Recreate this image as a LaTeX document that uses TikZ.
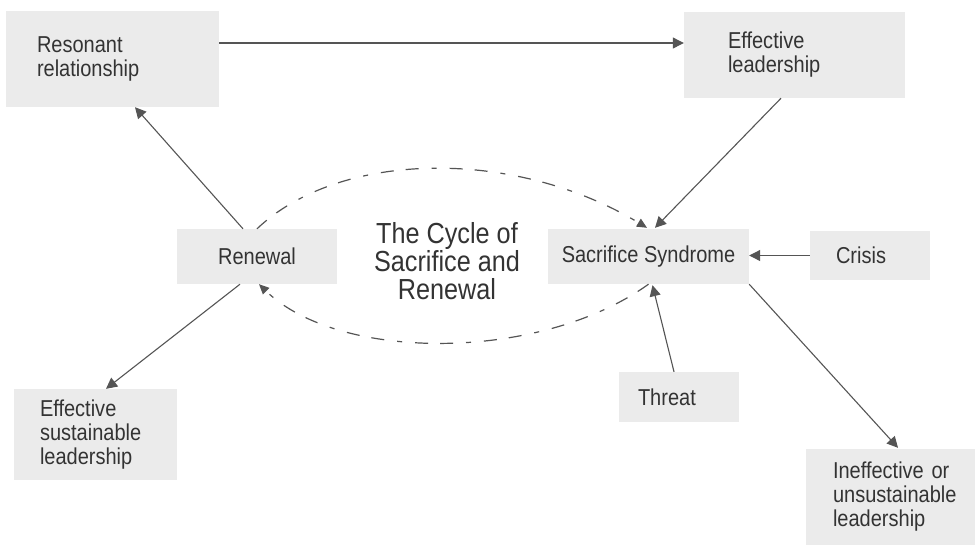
\documentclass[tikz,border=0pt]{standalone}
\usepackage{fontspec}
\setmainfont{Liberation Sans}[FakeStretch=0.87]
\usetikzlibrary{arrows.meta,calc}
\definecolor{boxgray}{HTML}{EBEBEB}
\definecolor{linegray}{HTML}{555555}
\definecolor{textgray}{HTML}{333333}
\tikzset{
  box/.style={fill=boxgray, draw=none, inner sep=0pt, text=textgray,
    font=\fontsize{23}{24}\selectfont},
  leftbox/.style args={#1/#2/#3}{box, minimum width=#1pt, minimum height=#2pt,
    text width=#1pt-2*#3pt, align=left},
  centbox/.style args={#1/#2}{box, minimum width=#1pt, minimum height=#2pt, align=center},
  arr/.style={draw=linegray, line width=1.1pt, -{Triangle[length=11pt,width=11pt]}},
  cyc/.style={draw=linegray, line width=1.2pt,
    dash pattern=on 13pt off 12pt on 13pt off 13pt on 5pt off 13pt,
    -{Triangle[length=10pt,width=9pt]}},
  titletext/.style={text=textgray, align=center, font=\fontsize{29}{28}\selectfont}
}
\begin{document}
\begin{tikzpicture}[x=1pt,y=-1pt]
\useasboundingbox (0,0) rectangle (979,547);
\fill[white] (0,0) rectangle (979,547);

\node[leftbox=213/96/31] (res) at (112.5,59) {Resonant\\relationship};
\node[leftbox=221/86/44] (eff) at (794.5,55) {Effective\\leadership};
\node[centbox=160/55] (ren) at (257,256.5) {Renewal};
\node[centbox=201/55] (sac) at (648.5,256.5) {Sacrifice Syndrome};
\node[leftbox=120/49/26] (cri) at (870,255.5) {Crisis};
\node[leftbox=120/50/19] (thr) at (679,397) {Threat};
\node[leftbox=163/91/26] (esl) at (95.5,434.5) {Effective\\sustainable\\leadership};
\node[leftbox=169/96/27] (inef) at (890.5,497) {\makebox[0pt][l]{Ineffective or}\\\makebox[0pt][l]{unsustainable}\\leadership};
\node[titletext] (title) at (447,261) {The Cycle of\\Sacrifice and\\Renewal};

\coordinate (r1) at ($(res.east)+(0,-16)$);
\draw[arr] (r1) -- (r1 -| eff.west);
\draw[arr] ($(eff.south)+(-13.5,0)$) -- ($(sac.north)+(6.5,-1)$);
\draw[arr] (cri.west) -- (cri.west -| sac.east);
\draw[arr] ($(thr.north)+(-5,0)$) -- ($(sac.south)+(4,1)$);
\draw[arr] (sac.south east) -- ($(inef.north)+(7.5,-1)$);
\draw[arr] ($(ren.north)+(-14,0)$) -- ($(res.south)+(22.5,0)$);
\draw[arr] ($(ren.south)+(-17,0)$) -- ($(esl.north)+(10.5,0)$);

\draw[cyc] (ren.north) .. controls (340,150) and (515,148) .. ($(sac.north)+(-1.5,-1)$);
\draw[cyc] (sac.south) .. controls (540,362) and (339,362) .. ($(ren.south)+(2,0)$);
\end{tikzpicture}
\end{document}
